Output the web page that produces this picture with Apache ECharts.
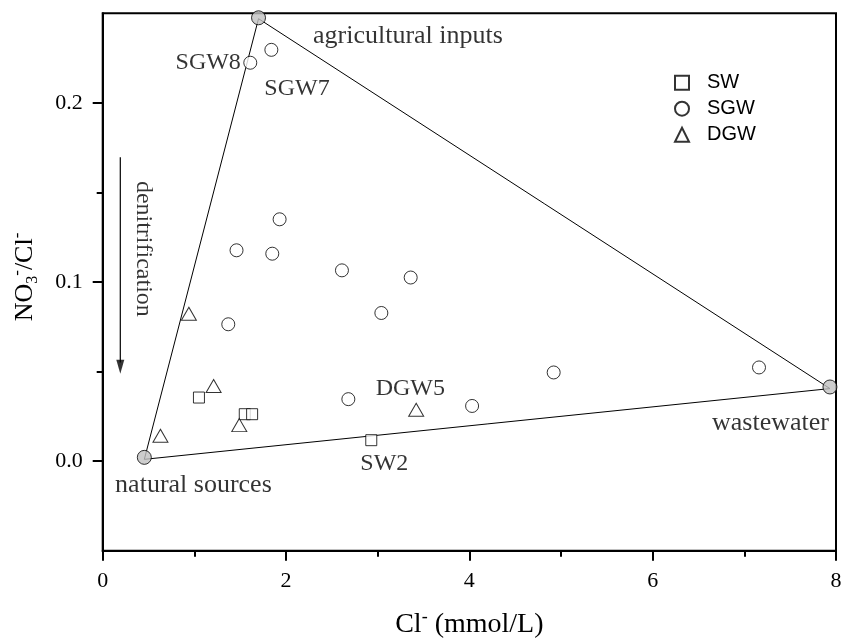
<!DOCTYPE html>
<html>
<head>
<meta charset="utf-8">
<script src="https://cdn.jsdelivr.net/npm/echarts@6/dist/echarts.min.js"></script>
<style>html,body{margin:0;padding:0;background:#fff}#c{width:842px;height:641px}</style>
</head>
<body>
<div id="c"></div>
<script>
// ---- data (Cl- mmol/L, NO3-/Cl-) ----
const swPoints = [[1.05, 0.0355], [1.55, 0.0262], [1.63, 0.0262], [2.93, 0.0117]];
const sgwPoints = [[1.61, 0.2224], [1.84, 0.2296], [1.93, 0.135], [1.46, 0.1177], [1.85, 0.1158],
  [2.61, 0.1065], [3.36, 0.1025], [3.04, 0.0827], [1.37, 0.0764], [2.68, 0.0346],
  [4.03, 0.0308], [4.92, 0.0495], [7.16, 0.0523]];
const dgwPoints = [[0.94, 0.0823], [1.21, 0.0419], [1.49, 0.0201], [0.63, 0.0142], [3.42, 0.0287]];
const endMembers = [[0.454, 0.0021], [1.70, 0.2475], [7.934, 0.0414]];
const mixingLine = [[0.454, 0.001], [1.70, 0.247], [7.934, 0.0405], [0.454, 0.001]];
const arrowShaft = [[0.192, 0.1697], [0.192, 0.055]];
const arrowHead = [[0.192, 0.0527]];
const sampleTexts = ['SGW8', 'SGW7', 'SW2', 'DGW5'];
const sampleAnchors = [[1.151, 0.2225], [2.12, 0.208], [3.072, -0.0013], [3.356, 0.0405]];
const sourceTexts = ['agricultural inputs', 'natural sources', 'wastewater'];
const sourceAnchors = [[3.33, 0.237], [0.99, -0.0134], [7.285, 0.021]];
const rotatedText = 'denitrification';
const rotatedAnchor = [0.44, 0.1185];
const xTickValues = [0, 2, 4, 6, 8];
const yTickValues = [0, 0.1, 0.2];
const yMinorTicks = [0.05, 0.15];
const seriesNames = ['SW', 'SGW', 'DGW'];

const serif = 'Liberation Serif';
const sans = 'Liberation Sans';
const hollow = { color: '#fff', borderColor: '#000', borderWidth: 1 };
const textLabel = (size, rotate) => ({
  show: true, position: 'inside', formatter: '{b}', fontFamily: serif, fontSize: size, color: '#000',
  textBorderWidth: 0, textBorderColor: 'transparent', rotate: rotate || 0
});

const chart = echarts.init(document.getElementById('c'), null, { renderer: 'canvas' });
chart.setOption({
  animation: false,
  backgroundColor: '#fff',
  grid: { left: 102.7, right: 6, top: 13.3, bottom: 90.3, containLabel: false, outerBoundsMode: 'none',
    show: true, borderColor: '#000', borderWidth: 2, backgroundColor: 'transparent' },
  legend: {
    data: seriesNames,
    orient: 'vertical',
    left: 669, top: 67.7,
    itemWidth: 14, itemHeight: 14, itemGap: 6,
    textStyle: { fontFamily: sans, fontSize: 20, color: '#000', padding: [0, 0, 0, 13] }
  },
  xAxis: {
    type: 'value', min: 0, max: 8, interval: 2,
    name: '{a|Cl}{c|-}{a| (mmol/L)}', nameLocation: 'middle', nameGap: 58,
    nameTextStyle: { rich: {
      a: { fontFamily: serif, fontSize: 28, color: '#000', lineHeight: 32 },
      c: { fontFamily: serif, fontSize: 18, color: '#000', verticalAlign: 'top', lineHeight: 18 } } },
    axisLine: { show: true, onZero: false, lineStyle: { color: '#000', width: 2 } },
    axisTick: { show: true, inside: false, length: 10, lineStyle: { color: '#000', width: 2 }, customValues: xTickValues },
    minorTick: { show: true, splitNumber: 2, length: 6, lineStyle: { color: '#000', width: 2 } },
    axisLabel: { fontFamily: serif, fontSize: 22, color: '#000', margin: 20, customValues: xTickValues },
    splitLine: { show: false }
  },
  yAxis: [{
    type: 'value', min: -0.05, max: 0.25, interval: 0.05,
    name: '{a|NO}{b|3}{c|-}{a|/Cl}{c|-}', nameLocation: 'middle', nameGap: 62, nameRotate: 90,
    nameTextStyle: { padding: [0, 0, 0, 10], rich: {
      a: { fontFamily: serif, fontSize: 26, color: '#000', lineHeight: 32 },
      b: { fontFamily: serif, fontSize: 16, color: '#000', verticalAlign: 'bottom', lineHeight: 16 },
      c: { fontFamily: serif, fontSize: 17, color: '#000', verticalAlign: 'top', lineHeight: 17 } } },
    axisLine: { show: true, onZero: false, lineStyle: { color: '#000', width: 2 } },
    axisTick: { show: true, length: 10, lineStyle: { color: '#000', width: 2 }, customValues: yTickValues },
    axisLabel: { fontFamily: serif, fontSize: 22, color: '#000', margin: 20, customValues: yTickValues,
      formatter: v => v.toFixed(1) },
    splitLine: { show: false }
  }, {
    type: 'value', min: -0.05, max: 0.25, interval: 0.05, position: 'left', offset: 0,
    axisLine: { show: false },
    axisTick: { show: true, length: 6, lineStyle: { color: '#000', width: 2 }, customValues: yMinorTicks },
    axisLabel: { show: false },
    splitLine: { show: false }
  }],
  series: [
    { type: 'line', data: mixingLine, symbol: 'none', lineStyle: { color: '#000', width: 1 }, z: 1, silent: true },
    { type: 'line', data: arrowShaft, symbol: 'none', lineStyle: { color: '#000', width: 1.2 }, z: 1, silent: true },
    { type: 'scatter', data: arrowHead, symbol: 'triangle', symbolRotate: 180, symbolSize: [8, 14], itemStyle: { color: '#000' }, z: 2 },
    { name: 'SW', type: 'scatter', data: swPoints, symbol: 'rect', symbolSize: 11, itemStyle: hollow, z: 3 },
    { name: 'SGW', type: 'scatter', data: sgwPoints, symbol: 'circle', symbolSize: 13, itemStyle: hollow, z: 3 },
    { name: 'DGW', type: 'scatter', data: dgwPoints, symbol: 'triangle', symbolSize: [15, 13], itemStyle: hollow, z: 3 },
    { type: 'scatter', data: endMembers, symbol: 'circle', symbolSize: 14, itemStyle: { color: '#c0c0c0', borderColor: '#000', borderWidth: 1 }, z: 4 },
    { type: 'scatter', symbolSize: 0, z: 5, silent: true, itemStyle: { color: 'transparent' },
      data: sampleTexts.map((t, i) => ({ name: t, value: sampleAnchors[i] })),
      label: textLabel(24) },
    { type: 'scatter', symbolSize: 0, z: 5, silent: true, itemStyle: { color: 'transparent' },
      data: sourceTexts.map((t, i) => ({ name: t, value: sourceAnchors[i] })),
      label: textLabel(26) },
    { type: 'scatter', symbolSize: 0, z: 5, silent: true, itemStyle: { color: 'transparent' },
      data: [{ name: rotatedText, value: rotatedAnchor }],
      label: textLabel(24, -90) }
  ]
});
</script>
</body>
</html>
